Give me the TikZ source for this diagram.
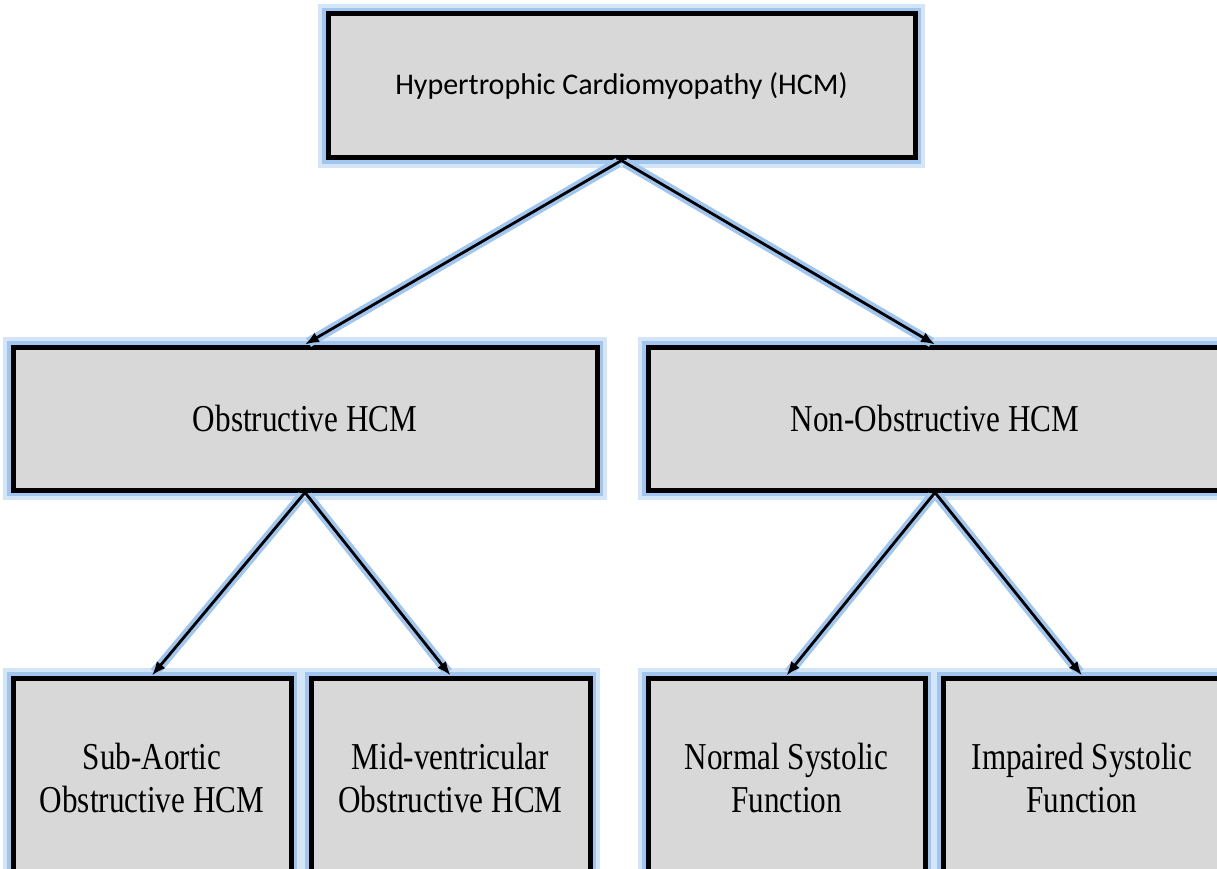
\documentclass[tikz,border=0pt]{standalone}
\usepackage{fontspec}
\setmainfont{Liberation Serif}
\newfontfamily\boxserif[FakeStretch=0.82]{Liberation Serif}
\newfontfamily\boxsans{Carlito}
\usetikzlibrary{arrows.meta}
\definecolor{boxgray}{RGB}{216,216,216}
\definecolor{glow}{RGB}{160,198,240}
\definecolor{glowpale}{RGB}{212,229,248}

\begin{document}
\begin{tikzpicture}[x=1pt,y=-1pt,
  box/.style={draw=black, line width=5, fill=boxgray,
    preaction={draw=glowpale, line width=20},
    preaction={draw=glow, line width=12},
    inner sep=0, align=center, font=\boxserif\fontsize{38}{43}\selectfont},
  link/.style={-{Latex[length=14pt,width=11pt]}, line width=2.8,
    preaction={draw=glow, line width=10, -, shorten <=4, shorten >=4}}]
  \useasboundingbox (0,0) rectangle (1217,869);
  % Top box
  \node[box, minimum width=587, minimum height=144,
    font=\boxsans\fontsize{30}{36}\selectfont] (hcm) at (621.5,86)
    {Hypertrophic Cardiomyopathy (HCM)};
  % Second row
  \node[box, minimum width=584, minimum height=143] (obs) at (305,418.5) {Obstructive HCM};
  \node[box, minimum width=574, minimum height=143] (nonobs) at (935,418.5) {Non-Obstructive HCM};
  % Third row
  \node[box, minimum width=278, minimum height=200] (subaortic) at (152,778) {Sub-Aortic\\Obstructive HCM};
  \node[box, minimum width=279, minimum height=200] (midvent) at (450.5,778) {Mid-ventricular\\Obstructive HCM};
  \node[box, minimum width=277, minimum height=200] (normal) at (786.5,778) {Normal Systolic\\Function};
  \node[box, minimum width=278, minimum height=200] (impaired) at (1082,778) {Impaired Systolic\\Function};
  % Arrows
  \draw[link] (hcm.south) -- (obs.north);
  \draw[link] (hcm.south) -- (nonobs.north);
  \draw[link] (obs.south) -- (subaortic.north);
  \draw[link] (obs.south) -- (midvent.north);
  \draw[link] (nonobs.south) -- (normal.north);
  \draw[link] (nonobs.south) -- (impaired.north);
\end{tikzpicture}
\end{document}
